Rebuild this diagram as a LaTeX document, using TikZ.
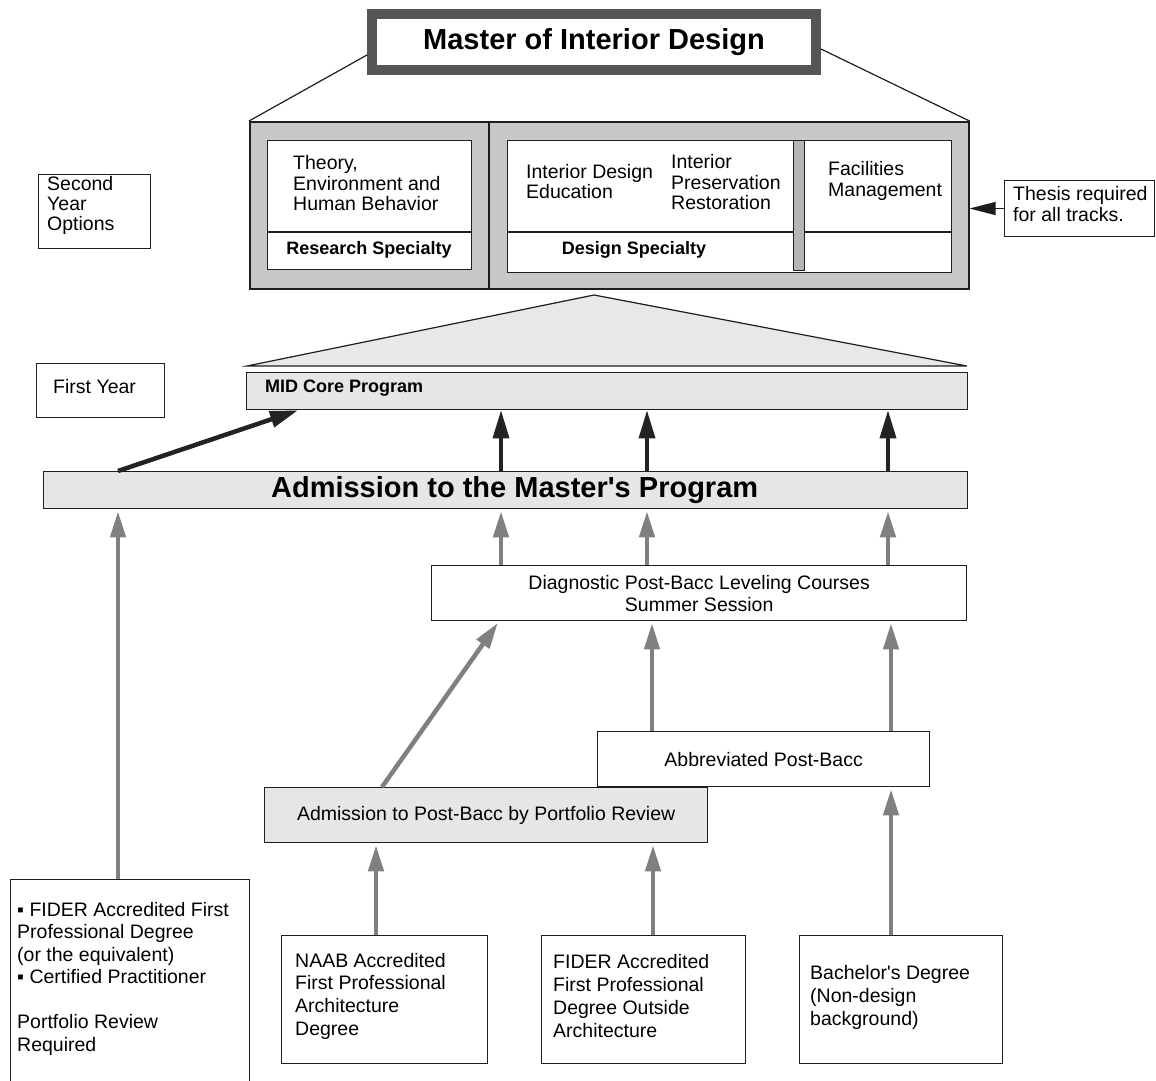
\documentclass[tikz,border=0pt]{standalone}
\usepackage{fontspec}
\newfontfamily\arial{Liberation Sans}
\usetikzlibrary{arrows.meta}
\definecolor{bigfill}{HTML}{C8C8C8}
\definecolor{lightfill}{HTML}{E6E6E6}
\definecolor{trifill}{HTML}{E8E8E8}
\definecolor{grayarrow}{HTML}{808080}
\definecolor{darkarrow}{HTML}{232323}
\definecolor{frame}{HTML}{555555}
\definecolor{barfill}{HTML}{B4B4B4}
\definecolor{edge}{HTML}{1E1E1E}
\begin{document}
\begin{tikzpicture}[x=1pt,y=-1pt,
  bx/.style={draw=edge, line width=1.3pt, inner sep=0pt, anchor=north west, fill=white},
  rtxt/.style={inner sep=0pt, anchor=west, align=left, font=\arial\fontsize{19.5}{#1}\selectfont},
  rtxt/.default=21,
  ctxt/.style={align=center, font=\arial\fontsize{19.5}{22}\selectfont},
  btxt/.style={inner sep=0pt, font=\arial\fontsize{18}{21}\selectfont\bfseries},
  bigtxt/.style={font=\arial\fontsize{29}{34}\selectfont\bfseries},
  garr/.style={draw=grayarrow, line width=4.5pt, shorten >=2pt, -{Triangle[length=26pt,width=15pt]}},
  darr/.style={draw=darkarrow, line width=3.5pt, -{Triangle[length=28pt,width=16pt]}},
  thin line/.style={draw=edge, line width=1.2pt},
]
\useasboundingbox (0,0) rectangle (1156,1080);
\fill[white] (0,0) rectangle (1156,1080);

% ---------- second year ----------
\node[bx, draw=frame, line width=10pt, minimum width=444pt, minimum height=56pt, bigtxt] (mid) at (367,9) {Master of Interior Design};
\node[bx, fill=bigfill, line width=1.5pt, minimum width=719pt, minimum height=167pt] (big) at (249,121) {};
\draw[thin line] ([yshift=-13pt]mid.west) -- (big.north west);
\draw[thin line] ([yshift=-7pt]mid.east) -- (big.north east);
\draw[thin line, line width=1.5pt] (489,121) -- (489,288);

\node[bx, minimum width=204pt, minimum height=129pt] (res) at (267,140) {};
\draw[thin line] (267,232) -- (471,232);
\node[rtxt=20.5] (theory) at (293,183.5) {Theory,\\Environment and\\Human Behavior};
\node[btxt] (resl) at (369,250) {Research Specialty};

\node[bx, minimum width=444pt, minimum height=132pt] (des) at (507,140) {};
\draw[thin line] (507,232) -- (951,232);
\node[bx, fill=barfill, minimum width=11pt, minimum height=130pt] (bar) at (793,140) {};
\node[rtxt=20] (ide) at (526,182) {Interior Design\\Education};
\node[rtxt=20.5] (ipr) at (671,182.5) {Interior\\Preservation\\Restoration};
\node[rtxt=21] (fac) at (828,180.5) {Facilities\\Management};
\node[btxt] (desl) at (634,250) {Design Specialty};

\node[bx, line width=1pt, minimum width=150pt, minimum height=56pt] (thesis) at (1004,180) {};
\node[rtxt=21] (thesist) at (1013,204.5) {Thesis required\\for all tracks.};
\draw[draw=edge, line width=1.2pt, -{Triangle[length=26pt,width=13pt]}] (thesis.west) -- (big.east |- thesis.west);

\node[bx, line width=1pt, minimum width=112pt, minimum height=74pt] (second) at (38,174) {};
\node[rtxt=20] (secondt) at (47,205) {Second\\Year\\Options};

% ---------- first year ----------
\node[bx, line width=1pt, minimum width=128pt, minimum height=54pt] (first) at (36,363) {};
\node[rtxt] (firstt) at (53,387) {First Year};

\draw[fill=trifill, draw=edge, line width=1.2pt] (247,366) -- (594,295) -- (967,366) -- cycle;
\node[bx, fill=lightfill, minimum width=721pt, minimum height=37pt] (core) at (246,372) {};
\node[btxt, anchor=west] (coret) at (265,388) {MID Core Program};

\node[bx, fill=lightfill, minimum width=924pt, minimum height=37pt, bigtxt] (adm) at (43,471) {\hspace*{18pt}Admission to the Master's Program};

% ---------- lower boxes ----------
\node[bx, minimum width=535pt, minimum height=55pt, ctxt] (diag) at (431,565) {Diagnostic Post-Bacc Leveling Courses\\Summer Session};
\node[bx, minimum width=332pt, minimum height=55pt, ctxt] (abbr) at (597,731) {Abbreviated Post-Bacc};
\node[bx, fill=lightfill, minimum width=443pt, minimum height=55pt, ctxt] (pbp) at (264,787) {Admission to Post-Bacc by Portfolio Review};

\node[bx, minimum width=239pt, minimum height=215pt] (fider1) at (10,879) {};
\node[rtxt=22.5] (fider1t) at (17,978.5) {▪ FIDER Accredited First\\Professional Degree\\(or the equivalent)\\▪ Certified Practitioner\\[22.5pt]Portfolio Review\\Required};
\node[bx, minimum width=206pt, minimum height=128pt] (naab) at (281,935) {};
\node[rtxt=22.7] (naabt) at (295,996) {NAAB Accredited\\First Professional\\Architecture\\Degree};
\node[bx, minimum width=204pt, minimum height=128pt] (fider2) at (541,935) {};
\node[rtxt=22.7] (fider2t) at (553,996) {FIDER Accredited\\First Professional\\Degree Outside\\Architecture};
\node[bx, minimum width=203pt, minimum height=128pt] (bach) at (799,935) {};
\node[rtxt=23] (bacht) at (810,997) {Bachelor's Degree\\(Non-design\\background)};

% ---------- arrow columns ----------
\coordinate (xa) at (118,0);
\coordinate (xb) at (501,0);
\coordinate (xc) at (647,0);
\coordinate (xd) at (888,0);
\coordinate (xe) at (298,0);
\coordinate (xf) at (382,0);
\coordinate (xg) at (499,0);
\coordinate (xh) at (652,0);
\coordinate (xi) at (891,0);
\coordinate (xj) at (376,0);
\coordinate (xk) at (653,0);

% dark arrows
\draw[darr, line width=4.5pt] (adm.north -| xa) -- (core.south -| xe);
\draw[darr] (adm.north -| xb) -- (core.south -| xb);
\draw[darr] (adm.north -| xc) -- (core.south -| xc);
\draw[darr] (adm.north -| xd) -- (core.south -| xd);

% gray arrows
\draw[garr] (diag.north -| xb) -- (adm.south -| xb);
\draw[garr] (diag.north -| xc) -- (adm.south -| xc);
\draw[garr] (diag.north -| xd) -- (adm.south -| xd);
\draw[garr] (pbp.north -| xf) -- (diag.south -| xg);
\draw[garr] (abbr.north -| xh) -- (diag.south -| xh);
\draw[garr] (abbr.north -| xi) -- (diag.south -| xi);
\draw[garr] (bach.north -| xi) -- (abbr.south -| xi);
\draw[garr] (naab.north -| xj) -- (pbp.south -| xj);
\draw[garr] (fider2.north -| xk) -- (pbp.south -| xk);
\draw[garr] (fider1.north -| xa) -- (adm.south -| xa);
\end{tikzpicture}
\end{document}
